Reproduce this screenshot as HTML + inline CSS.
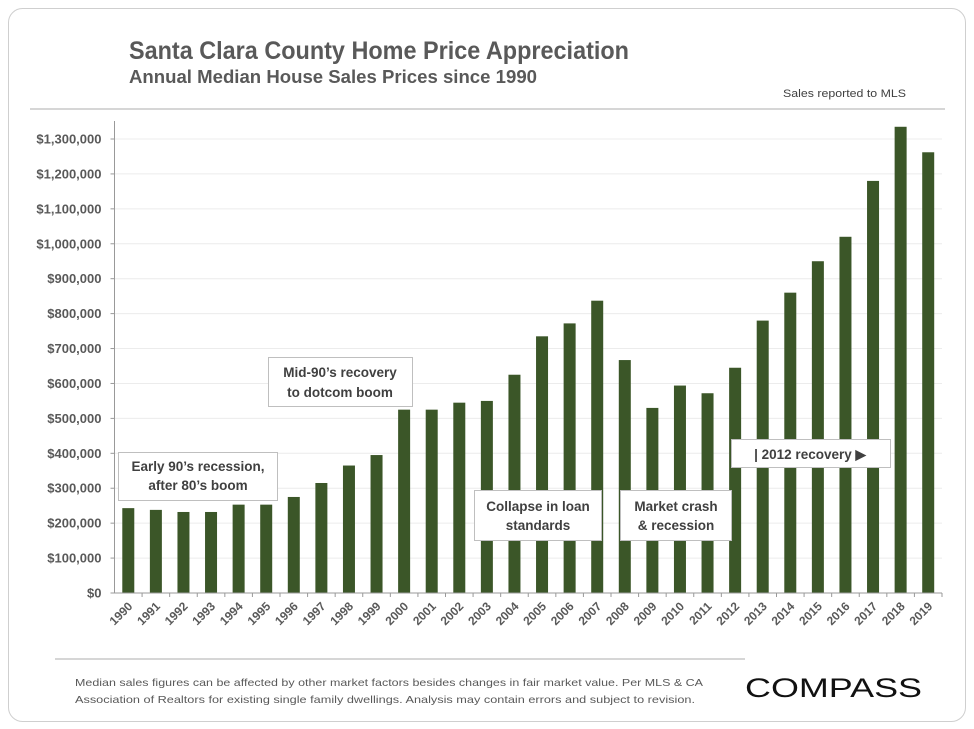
<!DOCTYPE html>
<html><head><meta charset="utf-8"><style>
html,body{margin:0;padding:0;background:#fff;}
svg{display:block;font-family:"Liberation Sans",sans-serif;}
</style></head><body>
<svg id="chart" width="974" height="729" viewBox="0 0 974 729">
<rect x="8.5" y="8.5" width="957" height="713" rx="14" fill="#fff" stroke="#cfcfcf"/>
<text x="129" y="59" font-family="'Liberation Sans Narrow','Liberation Sans',sans-serif" font-weight="bold" font-size="25" fill="#595959" textLength="500" lengthAdjust="spacingAndGlyphs">Santa Clara County Home Price Appreciation</text>
<text x="129" y="83" font-family="'Liberation Sans Narrow','Liberation Sans',sans-serif" font-weight="bold" font-size="18" fill="#595959" textLength="408" lengthAdjust="spacingAndGlyphs">Annual Median House Sales Prices since 1990</text>
<text x="783" y="97" font-family="'Liberation Sans Narrow','Liberation Sans',sans-serif" font-size="11" fill="#404040" textLength="123" lengthAdjust="spacingAndGlyphs">Sales reported to MLS</text>
<line x1="30" y1="109" x2="945" y2="109" stroke="#c8c8c8" stroke-width="1.5"/>
<g id="grid"></g>
<g id="bars"></g>
<g id="axes"></g>
<g>
<rect x="118.5" y="452.5" width="159" height="48" fill="#fff" stroke="#bfbfbf"/>
<text x="198" y="471" text-anchor="middle" font-weight="bold" font-size="13.5" fill="#404040">Early 90’s recession,</text>
<text x="198" y="490" text-anchor="middle" font-weight="bold" font-size="13.5" fill="#404040">after 80’s boom</text></g>
<g>
<rect x="268.5" y="357.5" width="144" height="49" fill="#fff" stroke="#bfbfbf"/>
<text x="340" y="377" text-anchor="middle" font-weight="bold" font-size="13.5" fill="#404040">Mid-90’s recovery</text>
<text x="340" y="397" text-anchor="middle" font-weight="bold" font-size="13.5" fill="#404040">to dotcom boom</text></g>
<g>
<rect x="474.5" y="490.5" width="127" height="50" fill="#fff" stroke="#bfbfbf"/>
<text x="538" y="511" text-anchor="middle" font-weight="bold" font-size="13.5" fill="#404040">Collapse in loan</text>
<text x="538" y="530" text-anchor="middle" font-weight="bold" font-size="13.5" fill="#404040">standards</text></g>
<g>
<rect x="620.5" y="490.5" width="111" height="50" fill="#fff" stroke="#bfbfbf"/>
<text x="676" y="511" text-anchor="middle" font-weight="bold" font-size="13.5" fill="#404040">Market crash</text>
<text x="676" y="530" text-anchor="middle" font-weight="bold" font-size="13.5" fill="#404040">&amp; recession</text></g>
<g>
<rect x="731.5" y="439.5" width="159" height="28" fill="#fff" stroke="#bfbfbf"/>
<text x="810" y="459" text-anchor="middle" font-weight="bold" font-size="13.5" fill="#404040">| 2012 recovery ▶</text></g>
<line x1="55" y1="659" x2="745" y2="659" stroke="#c8c8c8" stroke-width="1.5"/>
<text x="75" y="686" font-size="10.5" fill="#595959" textLength="628" lengthAdjust="spacingAndGlyphs">Median sales figures can be affected by other market factors besides changes in fair market value. Per MLS &amp; CA</text>
<text x="75" y="703" font-size="10.5" fill="#595959" textLength="620" lengthAdjust="spacingAndGlyphs">Association of Realtors for existing single family dwellings. Analysis may contain errors and subject to revision.</text>
<text x="745" y="697" font-size="27" fill="#111" textLength="177" lengthAdjust="spacingAndGlyphs">COMPASS</text>
</svg>
<script>
const years = ["1990","1991","1992","1993","1994","1995","1996","1997","1998","1999","2000","2001","2002","2003","2004","2005","2006","2007","2008","2009","2010","2011","2012","2013","2014","2015","2016","2017","2018","2019"];
const prices = [243000,238000,232000,232000,253000,253000,275000,315000,365000,395000,525000,525000,545000,550000,625000,735000,772000,837000,667000,530000,594000,572000,645000,780000,860000,950000,1020000,1180000,1335000,1262000];
const yTicks = [0,100000,200000,300000,400000,500000,600000,700000,800000,900000,1000000,1100000,1200000,1300000];
const yTickLabels = ["$0","$100,000","$200,000","$300,000","$400,000","$500,000","$600,000","$700,000","$800,000","$900,000","$1,000,000","$1,100,000","$1,200,000","$1,300,000"];

const NS="http://www.w3.org/2000/svg";
const X0=114.5, X1=942, Y0=593, Y1=139, VMAX=1300000;
const band=(X1-X0)/years.length;
const yScale=v=>Y0-(v/VMAX)*(Y0-Y1);
const xCenter=i=>X0+band*(i+0.5);
function mk(tag,attrs,parent){const e=document.createElementNS(NS,tag);for(const k in attrs)e.setAttribute(k,attrs[k]);parent.appendChild(e);return e;}
const grid=document.getElementById('grid'),bars=document.getElementById('bars'),axes=document.getElementById('axes');
yTicks.forEach((t,i)=>{
  const y=yScale(t);
  if(t>0){const g=mk('line',{x1:X0,x2:X1,y1:y,y2:y,stroke:'#ececec'},grid);
  
  }
  const tk=mk('line',{x1:X0-4,x2:X0,y1:y,y2:y,stroke:'#999'},axes);
  
  
  const lb=mk('text',{x:X0-13,y:y+4.5,'text-anchor':'end','font-size':'13','font-weight':'bold',fill:'#595959'},axes);
  lb.textContent=yTickLabels[i];
  
  
});
prices.forEach((v,i)=>{
  const y=yScale(v);
  const r=mk('rect',{x:xCenter(i)-6,y:y,width:12,height:Y0-y,fill:'#3b5628'},bars);
  
  
});
const ya=mk('line',{x1:X0,x2:X0,y1:121,y2:Y0,stroke:'#999'},axes);


const xa=mk('line',{x1:X0,x2:X1,y1:Y0,y2:Y0,stroke:'#999'},axes);


years.forEach((yr,i)=>{
  const xt=X0+band*(i+1);
  const tk=mk('line',{x1:xt,x2:xt,y1:Y0,y2:Y0+4,stroke:'#999'},axes);
  
  
  const cx=xCenter(i)+5, cy=Y0+14;
  const lb=mk('text',{x:cx,y:cy,'text-anchor':'end','font-size':'12','font-weight':'bold',fill:'#595959',transform:`rotate(-45 ${cx} ${cy})`},axes);
  lb.textContent=yr;
  
  
});
</script>
</body></html>
